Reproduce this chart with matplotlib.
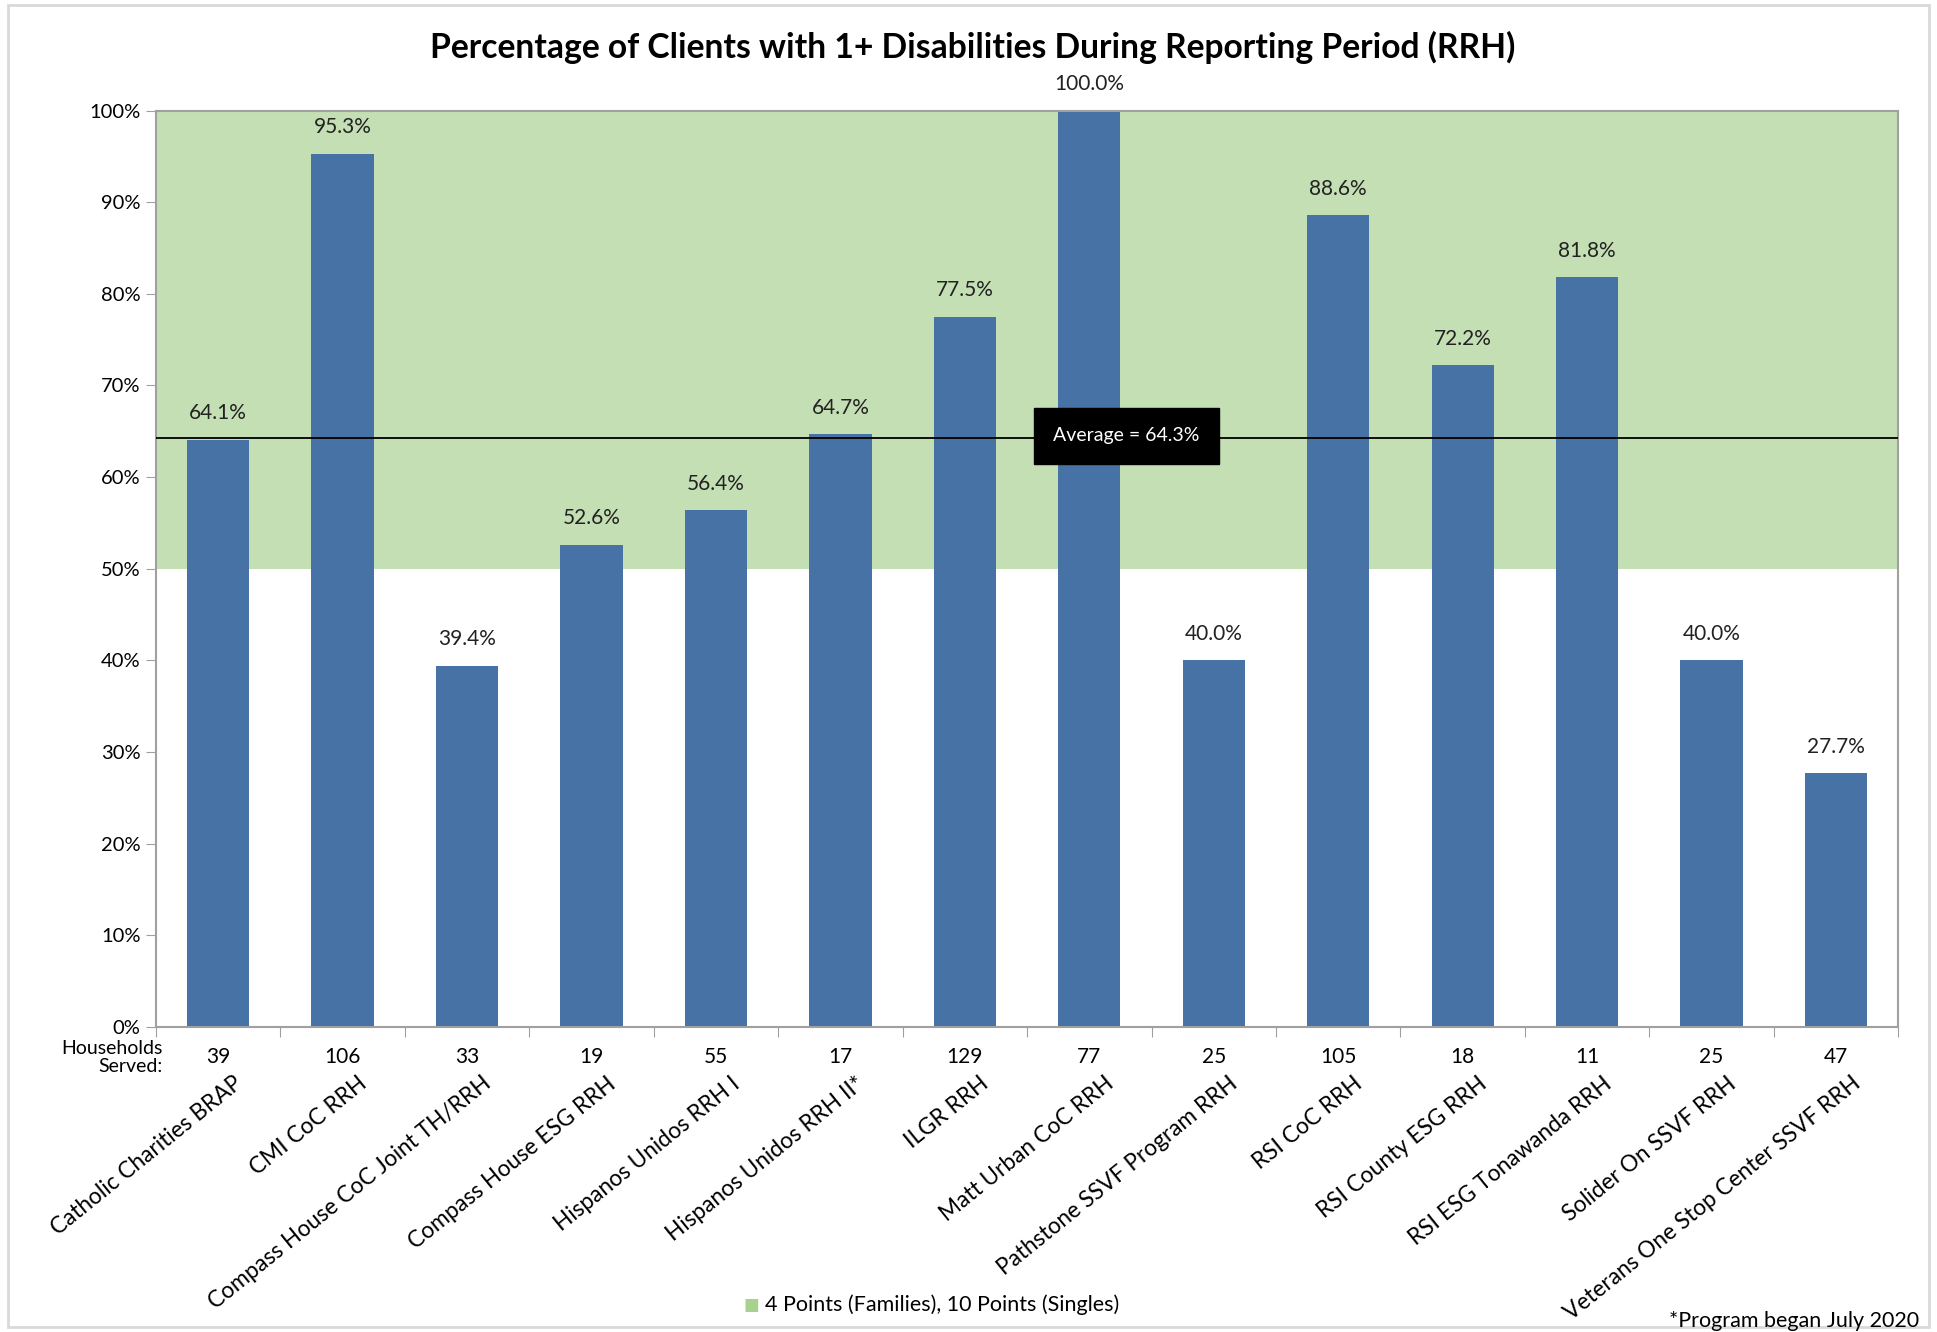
import numpy as np
import matplotlib
matplotlib.use("Agg")
import matplotlib.pyplot as plt
from matplotlib.patches import Rectangle

# datos del grafico
programas = [
    "Catholic Charities BRAP", "CMI CoC RRH", "Compass House CoC Joint TH/RRH",
    "Compass House ESG RRH", "Hispanos Unidos RRH I", "Hispanos Unidos RRH II*",
    "ILGR RRH", "Matt Urban CoC RRH", "Pathstone SSVF Program RRH", "RSI CoC RRH",
    "RSI County ESG RRH", "RSI ESG Tonawanda RRH", "Solider On SSVF RRH",
    "Veterans One Stop Center SSVF RRH",
]
porcentajes = [64.1, 95.3, 39.4, 52.6, 56.4, 64.7, 77.5, 100.0, 40.0, 88.6, 72.2, 81.8, 40.0, 27.7]
hogares = [39, 106, 33, 19, 55, 17, 129, 77, 25, 105, 18, 11, 25, 47]
promedio = 64.3
meta_min, meta_max = 50, 100

azul = "#4672A6"
verde = "#C4DFB4"
gris = "#A0A0A0"

plt.rcParams['font.family'] = ['Lato', 'DejaVu Sans']

fig = plt.figure(figsize=(19.37, 13.32), dpi=100)
ax = fig.add_axes([0.0805, 0.229, 0.8995, 0.688])

# borde de la figura
fig.patches.append(Rectangle((0.004, 0.004), 0.992, 0.992, transform=fig.transFigure,
                             fill=False, edgecolor="#D9D9D9", linewidth=2))

x = np.arange(len(programas))
ax.axhspan(meta_min, meta_max, color=verde, zorder=0, linewidth=0)
ax.bar(x, porcentajes, width=0.5, color=azul, zorder=2)
ax.axhline(promedio, color="black", linewidth=1.3, zorder=3)

# etiquetas de valores
for xi, v in zip(x, porcentajes):
    ax.text(xi, v + 1.8, f"{v:.1f}%", ha="center", va="bottom", fontsize=15, color="#222222")

ax.text(7.3, promedio + 0.2, f"Average = {promedio}%", ha="center", va="center", fontsize=14,
        color="white", zorder=5,
        bbox=dict(boxstyle="square,pad=1.0", facecolor="black", edgecolor="black"))

ax.set_xlim(-0.5, len(programas) - 0.5)
ax.set_ylim(0, 100)
ax.set_yticks(np.arange(0, 101, 10))
ax.set_yticklabels([f"{t}%" for t in range(0, 101, 10)], fontsize=14.5)
ax.set_xticks(np.arange(-0.5, len(programas), 1))
ax.set_xticklabels([])
ax.tick_params(axis="x", direction="out", length=7, color=gris)
ax.tick_params(axis="y", direction="out", length=7, color=gris, pad=4)
for lado in ["left", "bottom", "right", "top"]:
    ax.spines[lado].set_color(gris)
    ax.spines[lado].set_linewidth(1.5)

# hogares atendidos
for xi, h in zip(x, hogares):
    ax.text(xi, -2.2, str(h), ha="center", va="top", fontsize=15,
            transform=ax.transData, clip_on=False)
ax.text(-0.5 + 0.05, -1.4, "Households\nServed:", ha="right", va="top", fontsize=14,
        linespacing=1.05, clip_on=False)

# nombres de programas
for xi, nombre in zip(x, programas):
    ax.text(xi + 0.12, -5.0, nombre, ha="right", va="top", rotation=39,
            rotation_mode="anchor", fontsize=16.3, clip_on=False)

fig.suptitle("Percentage of Clients with 1+ Disabilities During Reporting Period (RRH)",
             x=0.502, y=0.977, fontsize=24.2, fontweight="bold")

# leyenda
fig.text(0.388, 0.0205, "\u25A0", color="#A9D18E", fontsize=12, ha="center", va="center")
fig.text(0.395, 0.0205, "4 Points (Families), 10 Points (Singles)", fontsize=15.5,
         ha="left", va="center")
fig.text(0.991, 0.0085, "*Program began July 2020", fontsize=15.5, ha="right", va="center")

fig.savefig("out.png", dpi=100)
